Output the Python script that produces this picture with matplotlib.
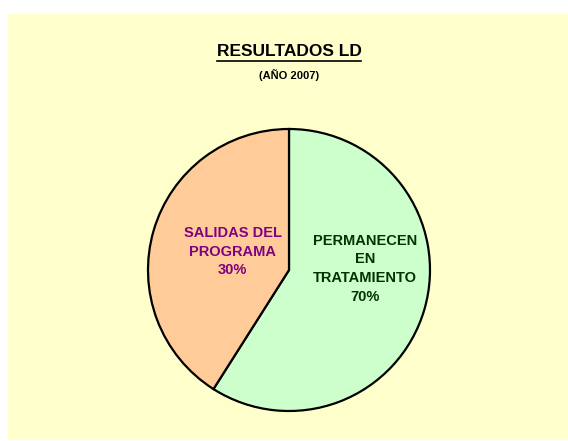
import matplotlib
matplotlib.use('Agg')
import matplotlib.pyplot as plt
from matplotlib.lines import Line2D
from matplotlib.patches import Rectangle

# data (slice sizes follow the drawn geometry,
# the printed percentages are the chart's own labels)
categories = ['PERMANECEN\nEN\nTRATAMIENTO', 'SALIDAS DEL\nPROGRAMA']
slice_values = [59, 41]
pct_labels = ['70%', '30%']
slice_colors = ['#CCFFCC', '#FFCC99']
label_colors = ['#003300', '#800080']

W, H = 568, 441
plt.rcParams['font.family'] = ['Liberation Sans', 'DejaVu Sans']

fig = plt.figure(figsize=(W / 100, H / 100), dpi=100)
fig.patch.set_facecolor('white')
# yellow chart area
fig.patches.append(Rectangle((8 / W, 1 / H), (W - 8) / W, 426 / H,
                             transform=fig.transFigure, facecolor='#FFFFCC',
                             edgecolor='none', zorder=-5))

cx, cy, r = 289, 270, 141
ax = fig.add_axes([(cx - r) / W, (H - cy - r) / H, 2 * r / W, 2 * r / H])
ax.set_zorder(2)
ax.pie(slice_values, colors=slice_colors, startangle=90, counterclock=False,
       radius=1, wedgeprops=dict(edgecolor='black', linewidth=1.6))
ax.set_xlim(-1, 1)
ax.set_ylim(-1, 1)
ax.axis('off')

label_pos = [(0.54, 0.01), (-0.40, 0.13)]
for cat, pct, col, (x, y) in zip(categories, pct_labels, label_colors, label_pos):
    ax.text(x, y, f'{cat}\n{pct}', ha='center', va='center', color=col,
            fontsize=10.5, fontweight='bold', linespacing=1.42)

title = fig.text(cx / W, 1 - 52 / H, 'RESULTADOS LD', ha='center', va='center',
                 fontsize=12.5, fontweight='bold', color='black')
fig.text(cx / W, 1 - 75 / H, '(AÑO 2007)', ha='center', va='center',
         fontsize=8, fontweight='bold', color='black')

fig.canvas.draw()
bb = title.get_window_extent()
uy = (H - 61) / H
fig.lines.append(Line2D([bb.x0 / W, bb.x1 / W], [uy, uy], transform=fig.transFigure,
                        color='black', linewidth=1.2))

fig.savefig('out.png', dpi=100)
